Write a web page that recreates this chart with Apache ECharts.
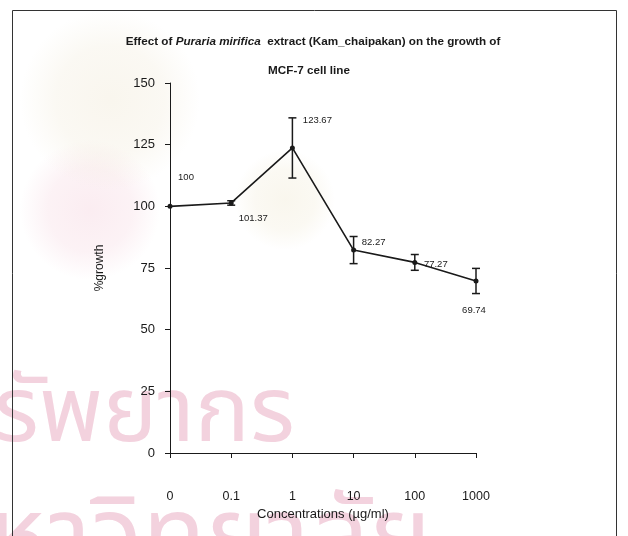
<!DOCTYPE html>
<html>
<head>
<meta charset="utf-8">
<script src="https://cdn.jsdelivr.net/npm/echarts@6/dist/echarts.min.js"></script>
<style>
  html, body { margin: 0; padding: 0; background: #ffffff; }
  #chart { width: 628px; height: 536px; }
</style>
</head>
<body>
<div id="chart"></div>
<script>
// Concentrations (µg/ml) and mean % growth with standard deviations
const concentrations = ['0', '0.1', '1', '10', '100', '1000'];
const growth = [100, 101.37, 123.67, 82.27, 77.27, 69.74];
const sd = [0, 0.9, 12.2, 5.5, 3.2, 5.1];
const valueLabels = ['100', '101.37', '123.67', '82.27', '77.27', '69.74'];
const yTicks = { min: 0, max: 150, interval: 25 };

const FONT = "'Liberation Sans', Arial, sans-serif";
const THAI = "'Noto Sans Thai', 'Noto Sans', sans-serif";
const INK = '#1a1a1a';
const MARK = '#f3d2de';

// label offsets around each point [dx, dy]
const labelOffsets = [[16, -29], [22, 15], [25, -28], [20, -8], [21, 2], [-2, 29]];

// soft radial patch used for the faint seal in the background
function softFill(r, g, b, a) {
  return {
    type: 'radial', x: 0.5, y: 0.5, r: 0.5,
    colorStops: [
      { offset: 0, color: `rgba(${r},${g},${b},${a})` },
      { offset: 0.6, color: `rgba(${r},${g},${b},${a * 0.7})` },
      { offset: 1, color: `rgba(${r},${g},${b},0)` }
    ]
  };
}

const chart = echarts.init(document.getElementById('chart'), null, { renderer: 'canvas' });

const errorData = growth.map((v, i) => [i, v - sd[i], v + sd[i]]);

chart.setOption({
  animation: false,
  backgroundColor: '#ffffff',
  graphic: [
    // faint library seal behind the plot
    {
      type: 'ellipse', z: 0, silent: true,
      shape: { cx: 90, cy: 210, rx: 170, ry: 70 },
      style: { fill: softFill(246, 214, 224, 0.45) }
    },
    {
      type: 'ellipse', z: 0, silent: true,
      shape: { cx: 110, cy: 100, rx: 120, ry: 90 },
      style: { fill: softFill(240, 232, 212, 0.4) }
    },
    {
      type: 'ellipse', z: 0, silent: true,
      shape: { cx: 285, cy: 200, rx: 50, ry: 75 },
      style: { fill: softFill(242, 236, 216, 0.45) }
    },
    {
      type: 'text', z: 0, silent: true,
      x: -6, y: 376,
      style: {
        text: 'รัพยากร', align: 'left', verticalAlign: 'top',
        fontFamily: THAI, fontSize: 92, fill: MARK
      }
    },
    {
      type: 'text', z: 0, silent: true,
      x: -12, y: 497,
      style: {
        text: 'หาวิทยาลัย', align: 'left', verticalAlign: 'top',
        fontFamily: THAI, fontSize: 104, fill: MARK
      }
    },
    // outer frame
    {
      type: 'rect', z: 1,
      shape: { x: 12.5, y: 10.5, width: 604, height: 540 },
      style: { fill: 'none', stroke: '#333', lineWidth: 1 }
    },
    // first title line with italic species name
    {
      type: 'text', z: 5,
      x: 313, y: 42,
      style: {
        text: '{a|Effect of }{i|Puraria mirifica}{a|  extract (Kam_chaipakan) on the growth of}',
        align: 'center', verticalAlign: 'middle',
        rich: {
          a: { fontFamily: FONT, fontSize: 11.7, fontWeight: 'bold', fill: INK },
          i: { fontFamily: FONT, fontSize: 11.7, fontWeight: 'bold', fontStyle: 'italic', fill: INK }
        }
      }
    },
    {
      type: 'text', z: 5,
      x: 309, y: 71,
      style: {
        text: 'MCF-7 cell line', align: 'center', verticalAlign: 'middle',
        fontFamily: FONT, fontSize: 11.7, fontWeight: 'bold', fill: INK
      }
    }
  ],
  grid: { left: 170, right: 152, top: 83, bottom: 83, containLabel: false },
  xAxis: {
    type: 'category',
    data: concentrations,
    boundaryGap: false,
    axisLine: { lineStyle: { color: INK, width: 1 } },
    axisTick: { show: true, alignWithLabel: true, length: 5, lineStyle: { color: INK } },
    axisLabel: { margin: 37, fontFamily: FONT, fontSize: 12.5, color: INK },
    name: 'Concentrations (\u00b5g/ml)',
    nameLocation: 'middle',
    nameGap: 52,
    nameTextStyle: { fontFamily: FONT, fontSize: 13, color: INK },
    splitLine: { show: false }
  },
  yAxis: {
    type: 'value',
    min: yTicks.min, max: yTicks.max, interval: yTicks.interval,
    axisLine: { show: true, lineStyle: { color: INK, width: 1 } },
    axisTick: { show: true, length: 5, lineStyle: { color: INK } },
    axisLabel: { margin: 15, fontFamily: FONT, fontSize: 13, color: INK },
    splitLine: { show: false },
    name: '%growth',
    nameLocation: 'middle',
    nameGap: 64,
    nameRotate: 90,
    nameTextStyle: { fontFamily: FONT, fontSize: 12, color: INK }
  },
  series: [
    {
      type: 'line',
      data: growth,
      z: 4,
      symbol: 'circle',
      symbolSize: 5,
      itemStyle: { color: INK },
      lineStyle: { color: INK, width: 1.6 },
      label: {
        show: true,
        position: 'inside',
        formatter: p => valueLabels[p.dataIndex],
        fontFamily: FONT, fontSize: 9.5, color: INK
      },
      labelLayout: p => ({
        dx: labelOffsets[p.dataIndex][0],
        dy: labelOffsets[p.dataIndex][1]
      })
    },
    {
      type: 'custom',
      z: 3,
      data: errorData,
      renderItem: (params, api) => {
        const x = api.value(0);
        const lo = api.coord([x, api.value(1)]);
        const hi = api.coord([x, api.value(2)]);
        if (Math.abs(lo[1] - hi[1]) < 0.5) return null;
        const cap = 4;
        const style = { stroke: INK, lineWidth: 1.5 };
        return {
          type: 'group',
          children: [
            { type: 'line', shape: { x1: hi[0], y1: hi[1], x2: lo[0], y2: lo[1] }, style },
            { type: 'line', shape: { x1: hi[0] - cap, y1: hi[1], x2: hi[0] + cap, y2: hi[1] }, style },
            { type: 'line', shape: { x1: lo[0] - cap, y1: lo[1], x2: lo[0] + cap, y2: lo[1] }, style }
          ]
        };
      }
    }
  ]
});
</script>
</body>
</html>
